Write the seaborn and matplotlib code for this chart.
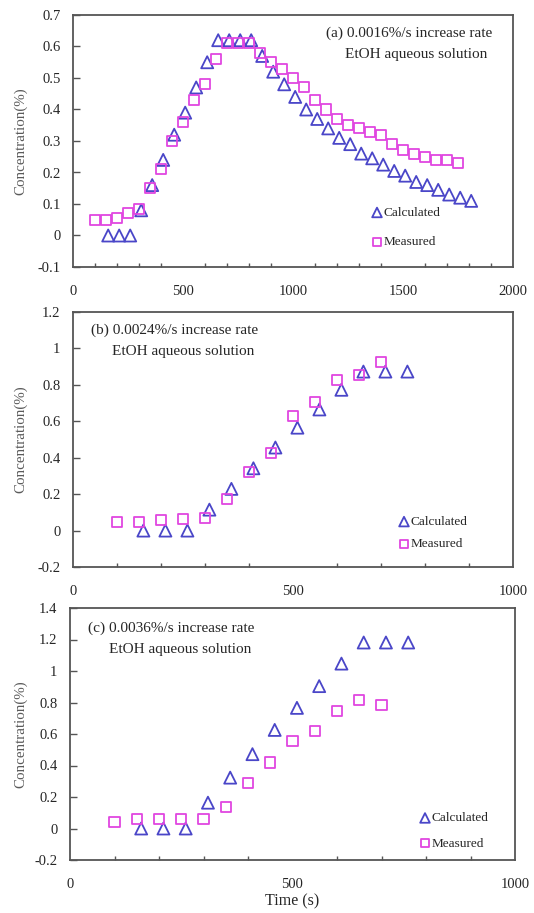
import numpy as np
import pandas as pd
import matplotlib
matplotlib.use("Agg")
import matplotlib.pyplot as plt
from matplotlib.ticker import MultipleLocator
import seaborn as sns

sns.set_theme(style="white")
plt.rcParams['font.family'] = ['Liberation Serif', 'DejaVu Serif']

# ---- Data ----
# Panel (a)
a_meas_t = [100, 150, 200, 250, 300, 350, 400, 450, 500, 550, 600, 650, 700, 750, 800, 850,
            900, 950, 1000, 1050, 1100, 1150, 1200, 1250, 1300, 1350, 1400, 1450, 1500, 1550,
            1600, 1650, 1700, 1750]
a_meas_c = [0.05, 0.05, 0.055, 0.07, 0.085, 0.15, 0.21, 0.30, 0.36, 0.43, 0.48, 0.56, 0.61, 0.61,
            0.61, 0.58, 0.55, 0.53, 0.50, 0.47, 0.43, 0.40, 0.37, 0.35, 0.34, 0.33, 0.32, 0.29,
            0.27, 0.26, 0.25, 0.24, 0.24, 0.23]
a_calc_t = [160, 210, 260, 310, 360, 410, 460, 510, 560, 610, 660, 710, 760, 810, 860, 910,
            960, 1010, 1060, 1110, 1160, 1210, 1260, 1310, 1360, 1410, 1460, 1510, 1560, 1610,
            1660, 1710, 1760, 1810]
a_calc_c = [0, 0, 0, 0.08, 0.16, 0.24, 0.32, 0.39, 0.47, 0.55, 0.62, 0.62, 0.62, 0.62, 0.57,
            0.52, 0.48, 0.44, 0.40, 0.37, 0.34, 0.31, 0.29, 0.26, 0.245, 0.225, 0.205, 0.19,
            0.17, 0.16, 0.145, 0.13, 0.12, 0.11]

# Panel (b)
b_meas_t = [100, 150, 200, 250, 300, 350, 400, 450, 500, 550, 600, 650, 700]
b_meas_c = [0.047, 0.047, 0.06, 0.065, 0.069, 0.175, 0.32, 0.427, 0.627, 0.705, 0.829, 0.856, 0.924]
b_calc_t = [160, 210, 260, 310, 360, 410, 460, 510, 560, 610, 660, 710, 760]
b_calc_c = [0, 0, 0, 0.115, 0.229, 0.342, 0.456, 0.565, 0.665, 0.773, 0.873, 0.873, 0.873]

# Panel (c)
c_meas_t = [100, 150, 200, 250, 300, 350, 400, 450, 500, 550, 600, 650, 700]
c_meas_c = [0.043, 0.062, 0.062, 0.062, 0.062, 0.138, 0.287, 0.419, 0.557, 0.617, 0.745, 0.813, 0.787]
c_calc_t = [160, 210, 260, 310, 360, 410, 460, 510, 560, 610, 660, 710, 760]
c_calc_c = [0, 0, 0, 0.164, 0.323, 0.472, 0.626, 0.766, 0.904, 1.047, 1.181, 1.181, 1.181]

titles = [("(a) 0.0016%/s increase rate", "EtOH aqueous solution"),
          ("(b) 0.0024%/s increase rate", "EtOH aqueous solution"),
          ("(c) 0.0036%/s increase rate", "EtOH aqueous solution")]

CALC_COLOR = "#4a46c8"
MEAS_COLOR = "#e046e0"
SPINE = "#555555"

fig = plt.figure(figsize=(5.34, 9.13), dpi=100)
W, H = 534, 913

def add_axes(l, t, r, b):
    return fig.add_axes([l / W, 1 - b / H, (r - l) / W, (b - t) / H])

axA = add_axes(73, 15, 513, 267)
axB = add_axes(73, 312, 513, 567)
axC = add_axes(70, 608, 515, 860)

panels = [
    (axA, a_calc_t, a_calc_c, a_meas_t, a_meas_c, (0, 2000), (-0.1, 0.7), 0.1),
    (axB, b_calc_t, b_calc_c, b_meas_t, b_meas_c, (0, 1000), (-0.2, 1.2), 0.2),
    (axC, c_calc_t, c_calc_c, c_meas_t, c_meas_c, (0, 1000), (-0.2, 1.4), 0.2),
]

for ax, ct, cc, mt, mc, xl, yl, ystep in panels:
    dcalc = pd.DataFrame({"t": ct, "c": cc})
    dmeas = pd.DataFrame({"t": mt, "c": mc})
    sns.scatterplot(data=dcalc, x="t", y="c", ax=ax, marker="^", s=75,
                    facecolors="none", edgecolors=CALC_COLOR, linewidth=1.3,
                    label="Calculated", zorder=3)
    sns.scatterplot(data=dmeas, x="t", y="c", ax=ax, marker="s", s=52,
                    facecolors="none", edgecolors=MEAS_COLOR, linewidth=1.3,
                    label="Measured", zorder=3)
    ax.set_xlim(*xl)
    ax.set_ylim(*yl)
    ax.xaxis.set_major_locator(MultipleLocator(500))
    ax.xaxis.set_minor_locator(MultipleLocator(100))
    ax.yaxis.set_major_locator(MultipleLocator(ystep))
    ax.yaxis.set_major_formatter(matplotlib.ticker.FuncFormatter(
        lambda v, p: ("%g" % round(v, 2)) if abs(v) > 1e-9 else "0"))
    ax.tick_params(axis="x", which="major", direction="in", length=5, width=1,
                   color=SPINE, pad=13, labelsize=10.5)
    ax.tick_params(axis="x", which="minor", direction="in", length=3, width=1,
                   color=SPINE, bottom=True)
    ax.tick_params(axis="y", which="major", direction="in", length=5, width=1,
                   color=SPINE, pad=9, labelsize=10.5, left=True)
    for sp in ax.spines.values():
        sp.set_color(SPINE)
        sp.set_linewidth(1.3)
    ax.set_xlabel("")
    ax.set_ylabel("Concentration(%)", fontsize=10.8, color="#5a5a5a")
    ax.grid(False)

# y label positions (right edge of rotated label ~x=27px)
axA.yaxis.set_label_coords((27 - 73) / 440, 0.5)
axB.yaxis.set_label_coords((27 - 73) / 440, 0.5)
axC.yaxis.set_label_coords((27 - 70) / 445, 0.5)

# annotations
TFS = 11
axA.text(0.764, 0.929, titles[0][0], transform=axA.transAxes, ha="center", va="center", fontsize=TFS)
axA.text(0.78, 0.845, titles[0][1], transform=axA.transAxes, ha="center", va="center", fontsize=TFS)
axB.text(0.041, 0.929, titles[1][0], transform=axB.transAxes, ha="left", va="center", fontsize=TFS)
axB.text(0.089, 0.847, titles[1][1], transform=axB.transAxes, ha="left", va="center", fontsize=TFS)
axC.text(0.040, 0.921, titles[2][0], transform=axC.transAxes, ha="left", va="center", fontsize=TFS)
axC.text(0.088, 0.837, titles[2][1], transform=axC.transAxes, ha="left", va="center", fontsize=TFS)

def place_legend(ax, marker_x_px, ax_left, ax_w, y1_px, y2_px, ax_top, ax_h, spacing):
    fs = 9.5
    hl = 0.8
    left_px = marker_x_px - hl * fs * 100 / 72 / 2
    xfrac = (left_px - ax_left) / ax_w
    ymid = (y1_px + y2_px) / 2
    yfrac = 1 - (ymid - ax_top) / ax_h
    ax.legend(loc="center left", bbox_to_anchor=(xfrac, yfrac), frameon=False,
              fontsize=fs, handlelength=hl, handletextpad=0.1, borderpad=0,
              borderaxespad=0, labelspacing=spacing, markerscale=0.8)

place_legend(axA, 377, 73, 440, 213, 242, 15, 252, 1.3)
place_legend(axB, 404, 73, 440, 522, 544, 312, 255, 0.75)
place_legend(axC, 425, 70, 445, 818, 844, 608, 252, 1.0)

axC.set_xlabel("Time (s)", fontsize=11.5, labelpad=2)

fig.savefig("out.png", dpi=100)
